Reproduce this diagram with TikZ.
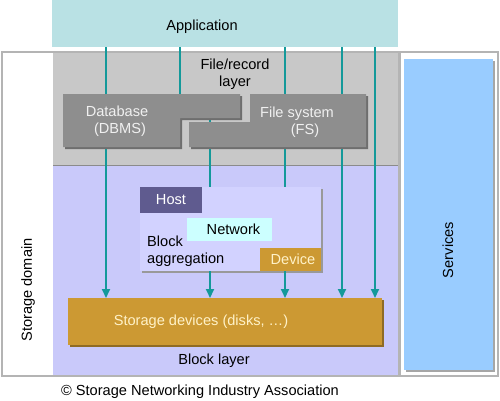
\documentclass[tikz,border=0pt]{standalone}
\usepackage{fontspec}
\setmainfont{Liberation Sans}
\usetikzlibrary{positioning,arrows.meta}

\definecolor{appcol}{HTML}{B9E1E4}
\definecolor{filecol}{HTML}{C8C8C8}
\definecolor{blockcol}{HTML}{C9C9FA}
\definecolor{aggcol}{HTML}{D2D2FF}
\definecolor{hostcol}{HTML}{5F5B8F}
\definecolor{netcol}{HTML}{CCFFFF}
\definecolor{devcol}{HTML}{CC9933}
\definecolor{svccol}{HTML}{99CCFF}
\definecolor{dbcol}{HTML}{8E8E8E}
\definecolor{shadecol}{HTML}{6E6E6E}
\definecolor{framecol}{HTML}{B4B4B4}
\definecolor{linkcol}{HTML}{14999A}
\definecolor{creamcol}{HTML}{FFF2C8}

\begin{document}
\begin{tikzpicture}[x=1pt, y=-1pt,
    txt/.style={font=\fontsize{14.6}{17.5}\selectfont, inner sep=0pt, align=center},
    box/.style={anchor=north west, inner sep=0pt, outer sep=0pt},
    link/.style={draw=linkcol, line width=2pt},
    linkarr/.style={link, -{Triangle[width=8pt,length=9pt]}}]

    \useasboundingbox (0,0) rectangle (500,400);

    % Outer frames
    \draw[framecol, line width=2.5pt, fill=white] (2,52) rectangle (398,376);
    \draw[framecol, line width=2.5pt, fill=white] (400,52) rectangle (498,376);

    % Application
    \node[box, fill=appcol, minimum width=346, minimum height=47] (app) at (52,0) {};
    \node[txt] (applbl) at (202,27) {Application};

    % File/record layer and block layer
    \node[box, fill=filecol, minimum width=345, minimum height=112] (filelay) at (53,53) {};
    \node[box, fill=blockcol, minimum width=345, minimum height=210] (blocklay) at (53,165) {};
    \draw[shadecol!80, line width=1pt] (filelay.south west) -- (filelay.south east);
    \node[txt] (filelbl) at (235,74) {File/record\\layer};

    % Columns and edge points
    \coordinate (colA) at (106,0);
    \coordinate (colB) at (180,0);
    \coordinate (colC) at (210,0);
    \coordinate (colD) at (285,0);
    \coordinate (colE) at (342,0);
    \coordinate (colF) at (375,0);
    \coordinate (dbT1) at (106,94);
    \coordinate (dbT2) at (180,94);
    \coordinate (dbB) at (106,147);
    \coordinate (dbS) at (210,118);
    \coordinate (fsS) at (210,122);
    \coordinate (fsT1) at (285,94);
    \coordinate (fsT2) at (342,94);
    \coordinate (fsB1) at (210,147);
    \coordinate (fsB2) at (285,147);
    \coordinate (fsB3) at (342,147);

    % Storage devices
    \fill[devcol!70!black] (70,300) rectangle ++(314,47);
    \node[box, fill=devcol, minimum width=314, minimum height=47] (stor) at (68,298) {};
    \node[txt, text=creamcol] (storlbl) at (201,322) {Storage devices (disks, \dots)};

    % Block aggregation
    \fill[gray!80] (142,189) rectangle ++(181,84);
    \node[box, fill=aggcol, minimum width=181, minimum height=84] (agg) at (140,187) {};
    \node[box, fill=hostcol, minimum width=62, minimum height=26, txt, text=white] (host) at (140,187) {Host};
    \node[box, fill=netcol, minimum width=85, minimum height=23, txt] (net) at (187,218) {\hspace{8pt}Network};
    \node[box, fill=devcol, minimum width=61, minimum height=23, txt, text=creamcol] (dev) at (260,248) {\hspace{5pt}Device};
    \node[txt, align=left, anchor=west] (agglbl) at (147,251) {Block\\aggregation};

    % Connectors
    \draw[link] (app.south -| colA) -- (dbT1);
    \draw[link] (app.south -| colB) -- (dbT2);
    \draw[link] (app.south -| colD) -- (fsT1);
    \draw[link] (app.south -| colE) -- (fsT2);
    \draw[linkarr] (app.south -| colF) -- (stor.north -| colF);
    \draw[link] (dbS) -- (fsS);
    \draw[linkarr] (dbB) -- (stor.north -| colA);
    \draw[link] (fsB1) -- (agg.north -| colC);
    \draw[link] (fsB2) -- (agg.north -| colD);
    \draw[linkarr] (fsB3) -- (stor.north -| colE);
    \draw[linkarr] (agg.south -| colC) -- (stor.north -| colC);
    \draw[linkarr] (agg.south -| colD) -- (stor.north -| colD);

    % Database and file system
    \fill[shadecol] (65,96) -- (242,96) -- (242,120) -- (182,120) -- (182,149) -- (65,149) -- cycle;
    \fill[dbcol] (63,94) -- (240,94) -- (240,118) -- (180,118) -- (180,147) -- (63,147) -- cycle;
    \fill[shadecol] (252,96) -- (368,96) -- (368,149) -- (191,149) -- (191,124) -- (252,124) -- cycle;
    \fill[dbcol] (250,94) -- (366,94) -- (366,147) -- (189,147) -- (189,122) -- (250,122) -- cycle;
    \node[txt, text=white!94!black] (dblbl) at (117,121) {Database\\\hspace{6pt}(DBMS)};
    \node[txt, text=white!94!black] (fslbl) at (297,122) {File system\\\hspace{16pt}(FS)};

    % Services
    \fill[gray!70] (406,61) rectangle (495,372);
    \node[box, fill=svccol, minimum width=89, minimum height=311] (svc) at (404,59) {};
    \node[txt, rotate=90] (svclbl) at (448,250) {Services};

    % Side and bottom labels
    \node[txt, rotate=90] (domlbl) at (28,290) {Storage domain};
    \node[txt] (blocklbl) at (214,361) {Block layer};
    \node[txt] (copylbl) at (200,392) {\textcopyright{} Storage Networking Industry Association};

\end{tikzpicture}
\end{document}
